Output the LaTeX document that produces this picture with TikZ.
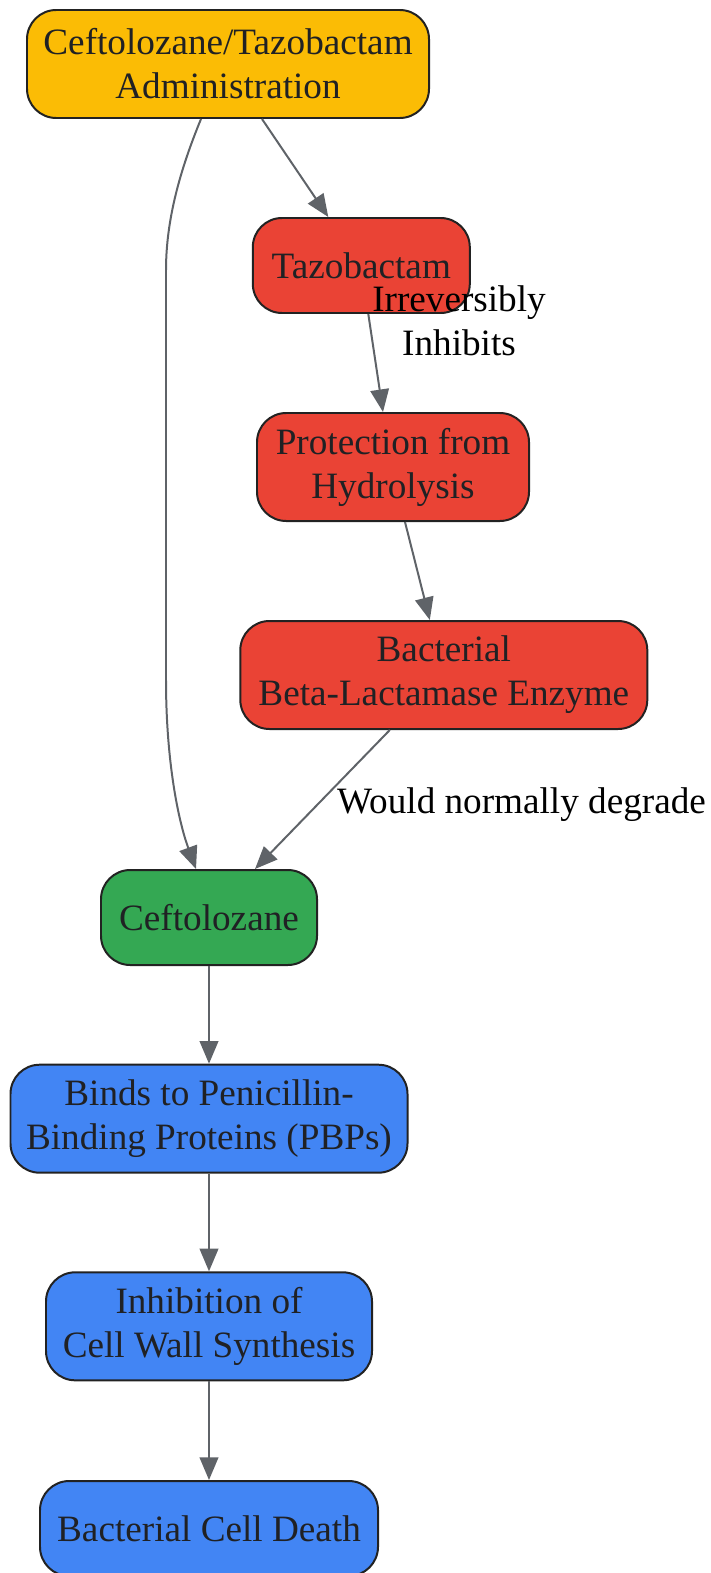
\documentclass[tikz,border=0pt]{standalone}
\usepackage{fontspec}
\setmainfont{Liberation Serif}
\usetikzlibrary{arrows.meta,calc}
\definecolor{cyellow}{HTML}{FBBC05}
\definecolor{cred}{HTML}{EA4335}
\definecolor{cgreen}{HTML}{34A853}
\definecolor{cblue}{HTML}{4285F4}
\definecolor{cedge}{HTML}{5F6368}
\definecolor{ctext}{HTML}{202124}
\definecolor{cborder}{HTML}{222222}
\tikzset{
  box/.style={draw=cborder, line width=1.5pt, rounded corners=22pt, align=center,
    text=ctext, inner sep=0pt, font=\fontsize{28}{33.2}\selectfont},
  edge/.style={draw=cedge, line width=1.5pt, -{Triangle[length=17pt,width=14pt]}},
  elabel/.style={align=center, text=black, font=\fontsize{28}{33.2}\selectfont, inner sep=0pt},
}
\begin{document}
\begin{tikzpicture}[x=0.75bp,y=-0.75bp]
\useasboundingbox (0,0) rectangle (710,1573);
\node[box, fill=cyellow, minimum width=301.5bp, minimum height=81bp] (admin) at (228,64) {Ceftolozane/Tazobactam\\Administration};
\node[box, fill=cred, minimum width=162.75bp, minimum height=71.25bp] (taz) at (361.3,265.5) {Tazobactam};
\node[box, fill=cred, minimum width=204bp, minimum height=81bp] (prot) at (393,467) {Protection from\\Hydrolysis};
\node[box, fill=cred, minimum width=305.25bp, minimum height=81bp] (bact) at (443.8,675) {Bacterial\\Beta-Lactamase Enzyme};
\node[box, fill=cgreen, minimum width=162bp, minimum height=71.25bp] (ceft) at (209,917.5) {Ceftolozane};
\node[box, fill=cblue, minimum width=297.75bp, minimum height=81bp] (binds) at (209,1118.7) {Binds to Penicillin-\\Binding Proteins (PBPs)};
\node[box, fill=cblue, minimum width=244.5bp, minimum height=81bp] (inhib) at (209,1326.3) {Inhibition of\\Cell Wall Synthesis};
\node[box, fill=cblue, minimum width=253.5bp, minimum height=71.25bp] (death) at (209,1528.5) {Bacterial Cell Death};

\draw[edge] ($(admin.south)+(34,0)$) -- ($(taz.north)+(-33,0)$);
\draw[edge] ($(admin.south)+(-27,0)$) .. controls (180,170) and (166,220) .. (166,270) -- (166,680) .. controls (166,760) and (178,820) .. ($(ceft.north)+(-13,0)$);
\draw[edge] ($(taz.south)+(7,0)$) -- ($(prot.north)+(-10,0)$);
\draw[edge] ($(prot.south)+(12,0)$) -- ($(bact.north)+(-14,0)$);
\draw[edge] ($(bact.south)+(-54,0)$) -- ($(ceft.north)+(46,0)$);
\draw[edge] (ceft) -- (binds);
\draw[edge] (binds) -- (inhib);
\draw[edge] (inhib) -- (death);

\node[elabel] (l1) at (459,321) {Irreversibly\\Inhibits};
\node[elabel, anchor=base] (l2) at (521.5,813) {Would normally degrade};
\end{tikzpicture}
\end{document}
